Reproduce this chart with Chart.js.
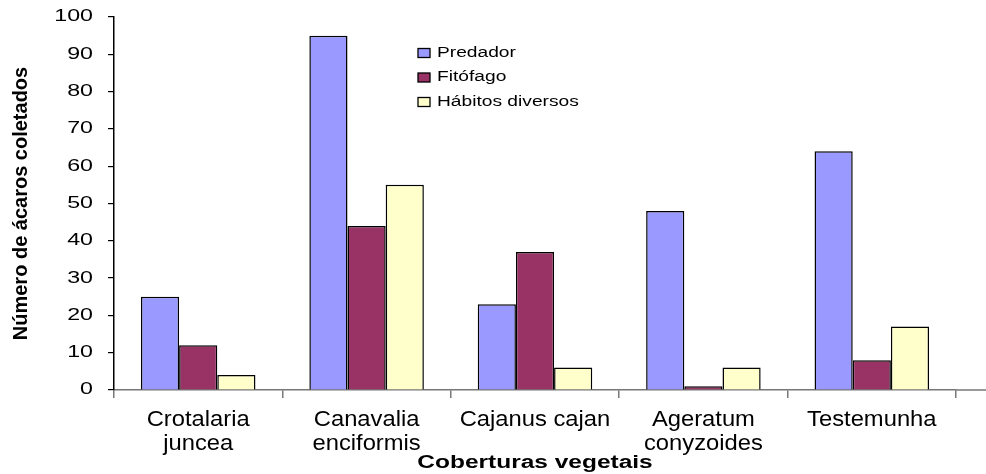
<!DOCTYPE html>
<html>
<head>
<meta charset="utf-8">
<script src="https://cdn.jsdelivr.net/npm/chart.js@4.4.1/dist/chart.umd.min.js"></script>
<style>
  html, body { margin: 0; padding: 0; background: #fff; }
  #wrap { position: relative; width: 986px; height: 474px; }
</style>
</head>
<body>
<div id="wrap"><canvas id="c" width="986" height="474"></canvas></div>
<script>
const categories = [["Crotalaria", "juncea"], ["Canavalia", "enciformis"], ["Cajanus cajan"], ["Ageratum", "conyzoides"], ["Testemunha"]];
const seriesNames = ["Predador", "Fitófago", "Hábitos diversos"];
const predador = [25, 95, 23, 48, 64];
const fitofago = [12, 44, 37, 1, 8];
const habitos = [4, 55, 6, 6, 17];
const yTicks = [0, 10, 20, 30, 40, 50, 60, 70, 80, 90, 100];
const yTitle = "Número de ácaros coletados";
const xTitle = "Coberturas vegetais";

const colors = ["#9999FF", "#993366", "#FFFFCC"];
const FONT = "'Liberation Sans', Arial, sans-serif";

// The reference renders its horizontal text wider than normal; reproduce that
// by stretching unrotated text horizontally, keyed by font pixel size.
const STRETCH = { 14: 1.37, 16: 1.45, 18: 1.36, 22: 1.08 };
const canvas = document.getElementById('c');
const ctx2d = canvas.getContext('2d');
(function patch(ctx) {
  const origFill = ctx.fillText;
  const origMeasure = ctx.measureText;
  function factor(c) {
    const m = /(\d+(?:\.\d+)?)px/.exec(c.font);
    if (!m) return 1;
    const t = c.getTransform();
    if (Math.abs(t.b) > 1e-6 || Math.abs(t.c) > 1e-6) return 1;
    return STRETCH[Math.round(parseFloat(m[1]))] || 1;
  }
  ctx.fillText = function (text, x, y, maxWidth) {
    const s = factor(this);
    if (s === 1) return origFill.call(this, text, x, y);
    this.save();
    this.translate(x, y);
    this.scale(s, 1);
    origFill.call(this, text, 0, 0);
    this.restore();
  };
  ctx.measureText = function (text) {
    const r = origMeasure.call(this, text);
    const s = factor(this);
    if (s === 1) return r;
    return {
      width: r.width * s,
      actualBoundingBoxAscent: r.actualBoundingBoxAscent,
      actualBoundingBoxDescent: r.actualBoundingBoxDescent,
      actualBoundingBoxLeft: r.actualBoundingBoxLeft * s,
      actualBoundingBoxRight: r.actualBoundingBoxRight * s,
      fontBoundingBoxAscent: r.fontBoundingBoxAscent,
      fontBoundingBoxDescent: r.fontBoundingBoxDescent
    };
  };
})(ctx2d);

const legendPlugin = {
  id: 'insideLegend',
  afterDraw(chart) {
    const ctx = chart.ctx;
    ctx.save();
    const x0 = 418, ys = [53, 77.5, 102];
    chart.data.datasets.forEach((ds, i) => {
      ctx.fillStyle = ds.backgroundColor;
      ctx.fillRect(x0, ys[i] - 4.5, 12, 9);
      ctx.strokeStyle = '#000';
      ctx.lineWidth = 1.3;
      ctx.strokeRect(x0, ys[i] - 4.5, 12, 9);
      ctx.fillStyle = '#000';
      ctx.font = "14px " + FONT;
      ctx.textBaseline = 'middle';
      ctx.textAlign = 'left';
      ctx.fillText(ds.label, 437, ys[i]);
    });
    // extend x axis line to the right edge
    const ca = chart.chartArea;
    ctx.strokeStyle = '#777';
    ctx.lineWidth = 1.5;
    ctx.beginPath();
    ctx.moveTo(ca.right, ca.bottom);
    ctx.lineTo(chart.width, ca.bottom);
    ctx.stroke();
    ctx.restore();
  }
};

new Chart(canvas, {
  type: 'bar',
  data: {
    labels: categories,
    datasets: [
      { label: seriesNames[0], data: predador, backgroundColor: colors[0] },
      { label: seriesNames[1], data: fitofago, backgroundColor: colors[1] },
      { label: seriesNames[2], data: habitos, backgroundColor: colors[2] }
    ].map(d => Object.assign(d, { borderColor: '#000', borderWidth: 1.5, barPercentage: 1.0, categoryPercentage: 0.68 }))
  },
  options: {
    responsive: false,
    animation: false,
    devicePixelRatio: 1,
    layout: { padding: { left: 0, right: 30, top: 17, bottom: 0 } },
    plugins: { legend: { display: false }, tooltip: { enabled: false } },
    scales: {
      x: {
        grid: { display: true, drawOnChartArea: false, offset: true, tickLength: 8, color: '#777', lineWidth: 1.5 },
        border: { display: true, color: '#777', width: 1.5 },
        ticks: { color: '#000', font: { family: FONT, size: 22, lineHeight: 1.1 }, padding: 10, maxRotation: 0, autoSkip: false },
        title: { display: true, text: xTitle, color: '#000', font: { family: FONT, size: 18, weight: 'bold' }, padding: { top: -4, bottom: 0 } },
        afterFit(scale) { scale.height = 84; scale.paddingTop = 0; scale.paddingBottom = 0; }
      },
      y: {
        min: 0, max: 100,
        afterBuildTicks(scale) { scale.ticks = yTicks.map(v => ({ value: v })); },
        grid: { display: true, drawOnChartArea: false, tickLength: 6, color: '#000', lineWidth: 1.2 },
        border: { display: true, color: '#000', width: 1.5 },
        ticks: { color: '#000', font: { family: FONT, size: 16 }, padding: 15 },
        title: { display: true, text: yTitle, color: '#000', font: { family: FONT, size: 20, weight: 'bold' }, padding: { top: 9, bottom: 0 } },
        afterFit(scale) { scale.width = 114; scale.paddingTop = 0; scale.paddingBottom = 0; }
      }
    }
  },
  plugins: [legendPlugin]
});
</script>
</body>
</html>
